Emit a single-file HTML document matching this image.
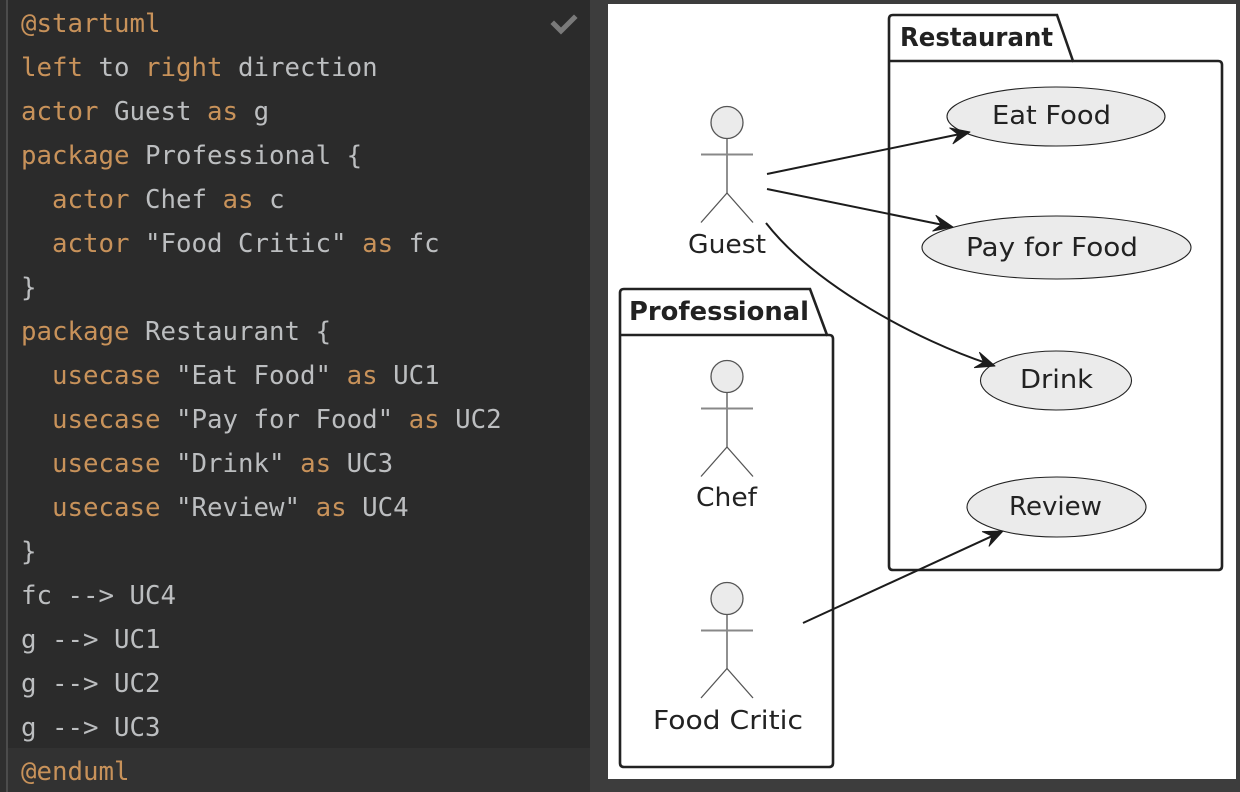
<!DOCTYPE html>
<html>
<head>
<meta charset="utf-8">
<style>
  html, body { margin: 0; padding: 0; background: #2b2b2b; }
  body { width: 1240px; height: 792px; overflow: hidden; }
  svg { display: block; }
  .code { font-family: "DejaVu Sans Mono", "Liberation Mono", monospace; font-size: 25.75px; fill: #bcbec0; white-space: pre; }
  .k { fill: #c8925a; }
  .lbl { font-family: "DejaVu Sans", "Liberation Sans", sans-serif; font-size: 26px; fill: #222; white-space: pre; }
  .pk { font-family: "DejaVu Sans", "Liberation Sans", sans-serif; font-size: 26px; font-weight: bold; fill: #222; white-space: pre; }
</style>
</head>
<body>
<svg width="1240" height="792" viewBox="0 0 1240 792" xmlns="http://www.w3.org/2000/svg">
  <!-- editor background -->
  <rect x="0" y="0" width="590" height="792" fill="#2b2b2b"/>
  <rect x="0" y="0" width="6" height="792" fill="#2f2f2f"/>
  <rect x="6" y="0" width="2" height="792" fill="#4c4c4c"/>
  <!-- current line highlight -->
  <rect x="8" y="748" width="582" height="44" fill="#323232"/>
  <!-- checkmark -->
  <path d="M554,24 L561,31 L574,18" fill="none" stroke="#7a7a7a" stroke-width="5" stroke-linecap="square"/>

  <!-- code -->
  <text class="code" x="21" y="32"><tspan class="k">@startuml</tspan></text>
  <text class="code" x="21" y="76"><tspan class="k">left</tspan> to <tspan class="k">right</tspan> direction</text>
  <text class="code" x="21" y="120"><tspan class="k">actor</tspan> Guest <tspan class="k">as</tspan> g</text>
  <text class="code" x="21" y="164"><tspan class="k">package</tspan> Professional {</text>
  <text class="code" x="52" y="208"><tspan class="k">actor</tspan> Chef <tspan class="k">as</tspan> c</text>
  <text class="code" x="52" y="252"><tspan class="k">actor</tspan> "Food Critic" <tspan class="k">as</tspan> fc</text>
  <text class="code" x="21" y="296">}</text>
  <text class="code" x="21" y="340"><tspan class="k">package</tspan> Restaurant {</text>
  <text class="code" x="52" y="384"><tspan class="k">usecase</tspan> "Eat Food" <tspan class="k">as</tspan> UC1</text>
  <text class="code" x="52" y="428"><tspan class="k">usecase</tspan> "Pay for Food" <tspan class="k">as</tspan> UC2</text>
  <text class="code" x="52" y="472"><tspan class="k">usecase</tspan> "Drink" <tspan class="k">as</tspan> UC3</text>
  <text class="code" x="52" y="516"><tspan class="k">usecase</tspan> "Review" <tspan class="k">as</tspan> UC4</text>
  <text class="code" x="21" y="560">}</text>
  <text class="code" x="21" y="604">fc --&gt; UC4</text>
  <text class="code" x="21" y="648">g --&gt; UC1</text>
  <text class="code" x="21" y="692">g --&gt; UC2</text>
  <text class="code" x="21" y="736">g --&gt; UC3</text>
  <text class="code" x="21" y="780"><tspan class="k">@enduml</tspan></text>

  <!-- separator / diagram frame -->
  <rect x="590" y="0" width="650" height="792" fill="#3d3d3d"/>
  <rect x="608" y="4" width="628" height="775" fill="#ffffff"/>

  <!-- Restaurant package -->
  <path d="M889,19 Q889,15 893,15 L1057,15 L1073,61 L1218,61 Q1222,61 1222,65 L1222,566 Q1222,570 1218,570 L893,570 Q889,570 889,566 Z" fill="none" stroke="#222" stroke-width="2.6"/>
  <line x1="889" y1="61" x2="1073" y2="61" stroke="#222" stroke-width="2.6"/>
  <text class="pk" x="900" y="46" textLength="153" lengthAdjust="spacingAndGlyphs">Restaurant</text>

  <!-- Professional package -->
  <path d="M620,293 Q620,289 624,289 L810,289 L827,335 L829,335 Q833,335 833,339 L833,763 Q833,767 829,767 L624,767 Q620,767 620,763 Z" fill="none" stroke="#222" stroke-width="2.6"/>
  <line x1="620" y1="335" x2="827" y2="335" stroke="#222" stroke-width="2.6"/>
  <text class="pk" x="629" y="320" textLength="180" lengthAdjust="spacingAndGlyphs">Professional</text>

  <!-- Use cases -->
  <ellipse cx="1056" cy="116.5" rx="109" ry="29.5" fill="#ebebeb" stroke="#222" stroke-width="1.1"/>
  <text class="lbl" x="992" y="124" textLength="119" lengthAdjust="spacingAndGlyphs">Eat Food</text>

  <ellipse cx="1056.5" cy="247.5" rx="134.5" ry="31.5" fill="#ebebeb" stroke="#222" stroke-width="1.1"/>
  <text class="lbl" x="966" y="256" textLength="172" lengthAdjust="spacingAndGlyphs">Pay for Food</text>

  <ellipse cx="1056" cy="380.5" rx="75.5" ry="29.5" fill="#ebebeb" stroke="#222" stroke-width="1.1"/>
  <text class="lbl" x="1020" y="388" textLength="73" lengthAdjust="spacingAndGlyphs">Drink</text>

  <ellipse cx="1056.5" cy="507" rx="89.5" ry="30" fill="#ebebeb" stroke="#222" stroke-width="1.1"/>
  <text class="lbl" x="1009" y="515" textLength="93" lengthAdjust="spacingAndGlyphs">Review</text>

  <!-- Actors -->
  <g stroke="#555" stroke-width="1.3" fill="none">
    <!-- Guest -->
    <circle cx="727" cy="122.5" r="16" fill="#ebebeb"/>
    <line x1="727" y1="138.5" x2="727" y2="193"/>
    <line x1="701" y1="154.5" x2="753" y2="154.5" stroke="#888" stroke-width="2"/>
    <line x1="727" y1="193" x2="701" y2="222.5"/>
    <line x1="727" y1="193" x2="753" y2="222.5"/>
    <!-- Chef -->
    <circle cx="727" cy="376.5" r="16" fill="#ebebeb"/>
    <line x1="727" y1="392.5" x2="727" y2="447"/>
    <line x1="701" y1="408.5" x2="753" y2="408.5" stroke="#888" stroke-width="2"/>
    <line x1="727" y1="447" x2="701" y2="476.5"/>
    <line x1="727" y1="447" x2="753" y2="476.5"/>
    <!-- Food Critic -->
    <circle cx="727" cy="598.5" r="16" fill="#ebebeb"/>
    <line x1="727" y1="614.5" x2="727" y2="668.5"/>
    <line x1="701" y1="630.5" x2="753" y2="630.5" stroke="#888" stroke-width="2"/>
    <line x1="727" y1="668.5" x2="701" y2="698"/>
    <line x1="727" y1="668.5" x2="753" y2="698"/>
  </g>
  <text class="lbl" x="688" y="253" textLength="78" lengthAdjust="spacingAndGlyphs">Guest</text>
  <text class="lbl" x="696" y="506" textLength="61" lengthAdjust="spacingAndGlyphs">Chef</text>
  <text class="lbl" x="653" y="729" textLength="150" lengthAdjust="spacingAndGlyphs">Food Critic</text>

  <!-- Connectors -->
  <g stroke="#1c1c1c" stroke-width="2" fill="none">
    <line x1="767" y1="174" x2="962" y2="133.6"/>
    <line x1="767" y1="189" x2="945" y2="225.4"/>
    <path d="M766,223 C816,287 920,341 988,363.6"/>
    <line x1="803" y1="623" x2="996" y2="534.3"/>
  </g>
  <g fill="#1c1c1c" stroke="#1c1c1c" stroke-width="1" stroke-linejoin="round">
    <path d="M0,0 L-19,-8 L-12,0 L-19,8 Z" transform="translate(970,132) rotate(-11.7)"/>
    <path d="M0,0 L-19,-8 L-12,0 L-19,8 Z" transform="translate(953,227) rotate(11.5)"/>
    <path d="M0,0 L-19,-8 L-12,0 L-19,8 Z" transform="translate(995,366) rotate(18.4)"/>
    <path d="M0,0 L-19,-8 L-12,0 L-19,8 Z" transform="translate(1003,531) rotate(-24.7)"/>
  </g>
</svg>
</body>
</html>
